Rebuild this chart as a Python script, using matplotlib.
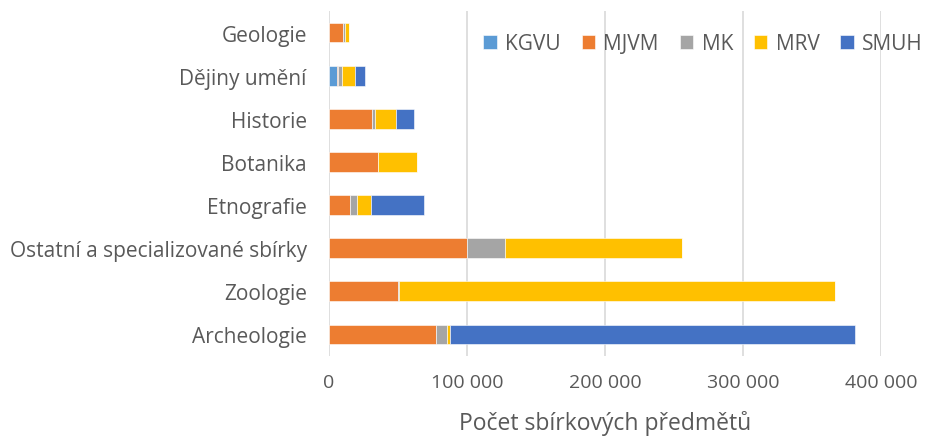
import numpy as np
import matplotlib.pyplot as plt
from matplotlib.ticker import FuncFormatter

categories = ['Archeologie', 'Zoologie', 'Ostatní a specializované sbírky', 'Etnografie',
              'Botanika', 'Historie', 'Dějiny umění', 'Geologie']
series = ['KGVU', 'MJVM', 'MK', 'MRV', 'SMUH']
kgvu = [0, 0, 0, 0, 0, 0, 5800, 0]
mjvm = [77500, 50300, 100300, 15000, 35500, 31400, 600, 10100]
mk = [8100, 500, 26900, 5300, 0, 1900, 3000, 1400]
mrv = [2200, 316000, 128700, 10100, 28200, 15200, 9400, 2900]
smuh = [293500, 0, 0, 38600, 0, 13000, 7200, 0]
colors = ['#5B9BD5', '#ED7D31', '#A5A5A5', '#FFC000', '#4472C4']

plt.rcParams['font.family'] = ['Open Sans', 'DejaVu Sans']

fig = plt.figure(figsize=(9.25, 4.39), dpi=100)
ax = fig.add_axes([329 / 925, 1 - 357 / 439, (881 - 329) / 925, (357 - 12) / 439])

y = np.arange(len(categories))
left = np.zeros(len(categories))
for name, vals, c in zip(series, [kgvu, mjvm, mk, mrv, smuh], colors):
    ax.barh(y, vals, left=left, height=0.46, color=c, label=name,
            edgecolor='white', linewidth=0.4, zorder=3)
    left += np.array(vals)

ax.set_xlim(0, 400000)
ax.set_ylim(-0.5, len(categories) - 0.5)
ax.set_xticks(np.arange(0, 400001, 100000))
ax.xaxis.set_major_formatter(FuncFormatter(lambda v, p: f'{int(v):,}'.replace(',', ' ')))
ax.set_yticks(y)
ax.set_yticklabels(categories)
ax.grid(axis='x', color='#d9d9d9', linewidth=1.2, zorder=0)
for s in ax.spines.values():
    s.set_visible(False)
ax.tick_params(length=0, colors='#595959')
ax.tick_params(axis='y', pad=16, labelsize=15)
ax.tick_params(axis='x', pad=12, labelsize=14)
ax.set_xlabel('Počet sbírkových předmětů', fontsize=16.5, color='#595959', labelpad=14)

leg = ax.legend(loc='upper right', bbox_to_anchor=(1.11, 0.99), ncol=5, frameon=False,
                fontsize=15, handlelength=0.65, handleheight=0.65, columnspacing=1.0,
                handletextpad=0.4, labelcolor='#595959')

fig.savefig('out.png', dpi=100)
